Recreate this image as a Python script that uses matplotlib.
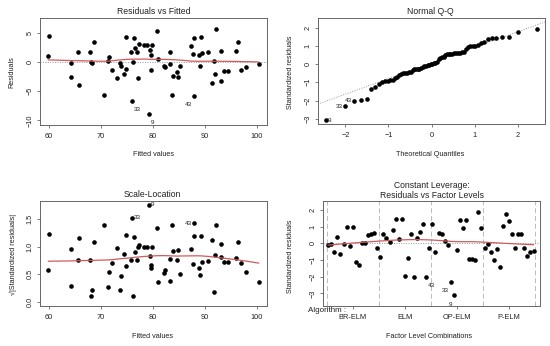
import statistics

import numpy as np
import matplotlib
matplotlib.use('Agg')
from matplotlib import pyplot as plt

plt.rcParams['font.family'] = ['Liberation Sans', 'DejaVu Sans']

# fitted values and raw residuals (Residuals vs Fitted panel)
fitted = [60.0, 59.9, 64.3, 64.2, 65.7, 65.6, 67.8, 68.1, 68.3, 68.7, 70.5, 71.4, 71.6, 72.2,
          73.0, 73.6, 73.9, 74.4, 74.9, 74.8, 75.7, 76.0, 76.1, 76.4, 76.6, 77.0, 77.2, 77.3,
          78.2, 78.9, 79.3, 79.4, 79.7, 79.7, 79.9, 80.7, 80.9, 82.2, 82.3, 83.2, 83.3, 83.6,
          83.8, 84.7, 84.9, 85.2, 87.4, 87.7, 87.8, 87.9, 88.8, 89.0, 89.2, 89.4, 90.6, 91.4,
          91.7, 92.0, 92.2, 93.0, 93.1, 93.6, 94.4, 96.0, 96.4, 96.9, 97.8, 100.3]
residuals = [4.4, 1.0, -0.25, -2.66, -3.95, 1.7, 1.65, 0.04, -0.14, 3.42, -5.62, 0.22, 0.85, -1.42,
             -2.77, -0.14, -0.66, -2.16, -1.27, 4.28, 1.72, -6.75, 0.04, 4.02, 2.38, 1.65, -2.85, 3.1,
             2.85, 2.88, -8.96, 1.98, 1.08, -1.33, 2.9, 5.2, 0.4, -0.8, -0.95, 1.74, -0.41, -5.7,
             -2.5, -1.7, -2.54, -0.77, 2.7, 1.37, -5.88, 4.1, 1.08, -0.72, 4.18, 1.56, 1.64, -3.62,
             0.1, -2.12, 5.64, 1.9, -3.23, -1.53, -1.51, 1.83, 3.45, -1.42, -0.86, -0.37]
sigma = 2.92
outlier_ids = ['9', '33', '43']

# standardized residuals by factor level (Constant Leverage panel)
algorithms = ['BR-ELM', 'ELM', 'OP-ELM', 'P-ELM']
br_elm = [-0.12, -0.02, -0.50, 0.36, -0.62, -0.06, 0.99, -0.16, 0.99, -1.11, -1.29, 0.04, 0.0,
          0.48, 0.58, 0.62, -0.30]
elm = [-0.79, 0.54, 0.34, 0.06, 0.77, 1.47, 0.24, 1.47, -1.96, -0.87, 0.58, -2.0, 0.32, 0.67,
       1.17, -2.04, -0.26]
op_elm = [1.17, -0.50, 0.63, 0.58, 0.14, -0.10, -2.34, -3.12, -0.42, 1.41, 0.89, 1.41, -0.93,
          -0.91, -0.97, 1.90, 0.93]
p_elm = [-0.30, -0.06, -0.52, -1.01, -0.36, -1.39, 1.03, 1.75, 1.33, 0.54, -0.30, 0.54, 0.58,
         -0.30, -0.77, -0.50, -0.46]

TXT = '#222222'
BOX = '#666666'
RED = '#d05a5a'


def lowess(x, y, f=2/3, iters=3):
    # plain version of R's lowess()
    o = np.argsort(x, kind='stable')
    x = np.asarray(x, float)[o]
    y = np.asarray(y, float)[o]
    n = len(x)
    ns = max(min(int(f * n + 1e-7), n), 2)
    rw = np.ones(n)
    yest = np.zeros(n)
    for it in range(iters + 1):
        for i in range(n):
            d = np.abs(x - x[i])
            h = np.sort(d)[ns - 1]
            w = np.zeros(n)
            if h > 0:
                r = d / h
                w = np.where(r <= 0.999, (1 - np.clip(r, 0, 1) ** 3) ** 3, 0.0)
                w[r <= 0.001] = 1.0
            else:
                w[d == 0] = 1.0
            w = w * rw
            sw = w.sum()
            b = (w * x).sum() / sw
            c = (w * (x - b) ** 2).sum() / sw
            if np.sqrt(c) > 0.001 * (x[-1] - x[0]):
                w = w * ((x[i] - b) * (x - b) / c + 1)
            yest[i] = (w * y).sum() / sw
        res = y - yest
        cmad = 6 * np.median(np.abs(res))
        if cmad < 1e-7 * np.mean(np.abs(y)):
            break
        u = np.abs(res) / cmad
        rw = np.where(u <= 0.999, (1 - np.clip(u, 0, 1) ** 2) ** 2, 0.0)
        rw[u <= 0.001] = 1.0
    return x, yest


def ext(lo, hi, f=0.04):
    d = (hi - lo) * f
    return lo - d, hi + d


def px(x, y):
    return x / 550, 1 - y / 346


def style(ax, yrot=True):
    for s in ax.spines.values():
        s.set_color(BOX)
        s.set_linewidth(0.7)
    ax.tick_params(length=2.2, width=0.6, color=BOX, labelsize=5.3, labelcolor=TXT)
    ax.tick_params(axis='x', pad=3.5)
    ax.tick_params(axis='y', pad=2.5, labelrotation=90)
    for lab in ax.get_yticklabels():
        lab.set_va('center')


def label_ids(ax, xs, ys, idx, ids, side, dy_pt):
    for k, i in enumerate(idx):
        if side[k] == 'r':
            ax.annotate(ids[k], (xs[i], ys[i]), xytext=(1.2, dy_pt), textcoords='offset points',
                        ha='left', va='center', fontsize=4.6, color=TXT)
        else:
            ax.annotate(ids[k], (xs[i], ys[i]), xytext=(-1.5, dy_pt), textcoords='offset points',
                        ha='right', va='center', fontsize=4.6, color=TXT)


fitted = np.array(fitted)
residuals = np.array(residuals)
std_res = residuals / sigma
worst = np.argsort(-np.abs(residuals))[:3]

fig = plt.figure(figsize=(5.5, 3.46), dpi=100)

# --- Residuals vs Fitted
ax1 = fig.add_axes([40 / 550, 1 - 125 / 346, 227 / 550, 107 / 346])
ax1.axhline(0, color='#999999', lw=0.7, ls=(0, (1, 1.5)))
ax1.plot(fitted, residuals, 'o', color='black', ms=3.3, mew=0)
sx, sy = lowess(fitted, residuals)
ax1.plot(sx, sy, color=RED, lw=0.9)
ax1.set_xlim(*ext(fitted.min(), fitted.max()))
ax1.set_ylim(*ext(*ext(residuals.min(), residuals.max(), 0.08)))
ax1.set_xticks([60, 70, 80, 90, 100])
ax1.set_yticks([-10, -5, 0, 5])
style(ax1)
mid = np.mean(ax1.get_xlim())
label_ids(ax1, fitted, residuals, worst, outlier_ids,
          ['r' if fitted[i] < mid else 'l' for i in worst], -6.2)

# --- Normal Q-Q
n = len(std_res)
nd = statistics.NormalDist()
theo = np.array([nd.inv_cdf((i + 0.5) / n) for i in range(n)])
order = np.argsort(std_res, kind='stable')
sample = std_res[order]
ax2 = fig.add_axes([318 / 550, 1 - 124 / 346, 227 / 550, 106 / 346])
y25, y75 = np.percentile(std_res, [25, 75])
x25, x75 = nd.inv_cdf(0.25), nd.inv_cdf(0.75)
slope = (y75 - y25) / (x75 - x25)
ax2.axline((0, y25 - slope * x25), slope=slope, color='#999999', lw=0.7, ls=(0, (1, 1.5)))
ax2.plot(theo, sample, 'o', color='black', ms=3.3, mew=0)
ax2.set_xlim(*ext(theo.min(), theo.max()))
lo, hi = sample.min(), sample.max()
ax2.set_ylim(*ext(lo, hi + (hi - lo) * 0.075))
ax2.set_xticks([-2, -1, 0, 1, 2])
ax2.set_yticks([-3, -2, -1, 0, 1, 2])
style(ax2)
qpos = [int(np.where(order == i)[0][0]) for i in worst]
label_ids(ax2, theo, sample, qpos, outlier_ids, ['r', 'l', 'l'], 0)

# --- Scale-Location
sl = np.sqrt(np.abs(std_res))
ax3 = fig.add_axes([40 / 550, 1 - 306 / 346, 227 / 550, 105 / 346])
ax3.plot(fitted, sl, 'o', color='black', ms=3.3, mew=0)
sx, sy = lowess(fitted, sl)
ax3.plot(sx, sy, color=RED, lw=0.9)
ax3.set_xlim(*ext(fitted.min(), fitted.max()))
ax3.set_ylim(*ext(0, sl.max()))
ax3.set_xticks([60, 70, 80, 90, 100])
ax3.set_yticks([0.0, 0.5, 1.0, 1.5])
ax3.set_yticklabels(['0.0', '0.5', '1.0', '1.5'])
style(ax3)
label_ids(ax3, fitted, sl, worst, outlier_ids,
          ['r' if fitted[i] < mid else 'l' for i in worst], 0)

# --- Constant Leverage: Residuals vs Factor Levels
groups = [br_elm, elm, op_elm, p_elm]
m = len(br_elm)
facval = np.concatenate([g * m + np.arange(len(v)) for g, v in enumerate(groups)])
rs = np.concatenate(groups)
ax4 = fig.add_axes([323 / 550, 1 - 306 / 346, 217 / 550, 105 / 346])
for g in range(len(groups) + 1):
    ax4.axvline(g * m - 0.5, color='#bbbbbb', lw=0.7, ls=(0, (5, 3)))
ax4.axhline(0, color='#999999', lw=0.7, ls=(0, (1, 1.5)))
ax4.plot(facval, rs, 'o', color='black', ms=3.3, mew=0)
sx, sy = lowess(facval, rs)
ax4.plot(sx, sy, color=RED, lw=0.9)
ax4.set_xlim(-1.7, len(groups) * m - 0.5 + 1.6)
ax4.set_ylim(*ext(*ext(rs.min(), rs.max(), 0.08)))
ax4.set_xticks([g * m + (m - 1) / 2 for g in range(len(groups))])
ax4.set_xticklabels(algorithms)
ax4.set_yticks([-3, -2, -1, 0, 1, 2])
style(ax4)
low3 = np.argsort(rs)[:3]
mid4 = np.mean(ax4.get_xlim())
label_ids(ax4, facval, rs, low3, outlier_ids,
          ['r' if facval[i] < mid4 else 'l' for i in low3], -6.2)

# titles and axis labels
tkw = dict(ha='center', va='center', color=TXT)
fig.text(*px(153.5, 12), 'Residuals vs Fitted', fontsize=6.2, **tkw)
fig.text(*px(153.5, 154), 'Fitted values', fontsize=5.2, **tkw)
fig.text(*px(12, 72), 'Residuals', fontsize=5.2, rotation=90, **tkw)

fig.text(*px(430.5, 12), 'Normal Q-Q', fontsize=6.2, **tkw)
fig.text(*px(430.5, 154), 'Theoretical Quantiles', fontsize=5.2, **tkw)
fig.text(*px(290, 72), 'Standardized residuals', fontsize=5.2, rotation=90, **tkw)

fig.text(*px(152.5, 194.5), 'Scale-Location', fontsize=6.2, **tkw)
fig.text(*px(152.5, 336.5), 'Fitted values', fontsize=5.2, **tkw)
fig.text(*px(13, 254), '\u221a|Standardized residuals|', fontsize=5.2, rotation=90, **tkw)

fig.text(*px(431.5, 185), 'Constant Leverage:', fontsize=6.2, **tkw)
fig.text(*px(431.5, 195), 'Residuals vs Factor Levels', fontsize=6.2, **tkw)
fig.text(*px(429, 337), 'Factor Level Combinations', fontsize=5.2, **tkw)
fig.text(*px(290, 256), 'Standardized residuals', fontsize=5.2, rotation=90, **tkw)
fig.text(*px(308, 310), 'Algorithm :', fontsize=5.8, ha='left', va='center', color=TXT)

fig.savefig('out.png', dpi=100)
